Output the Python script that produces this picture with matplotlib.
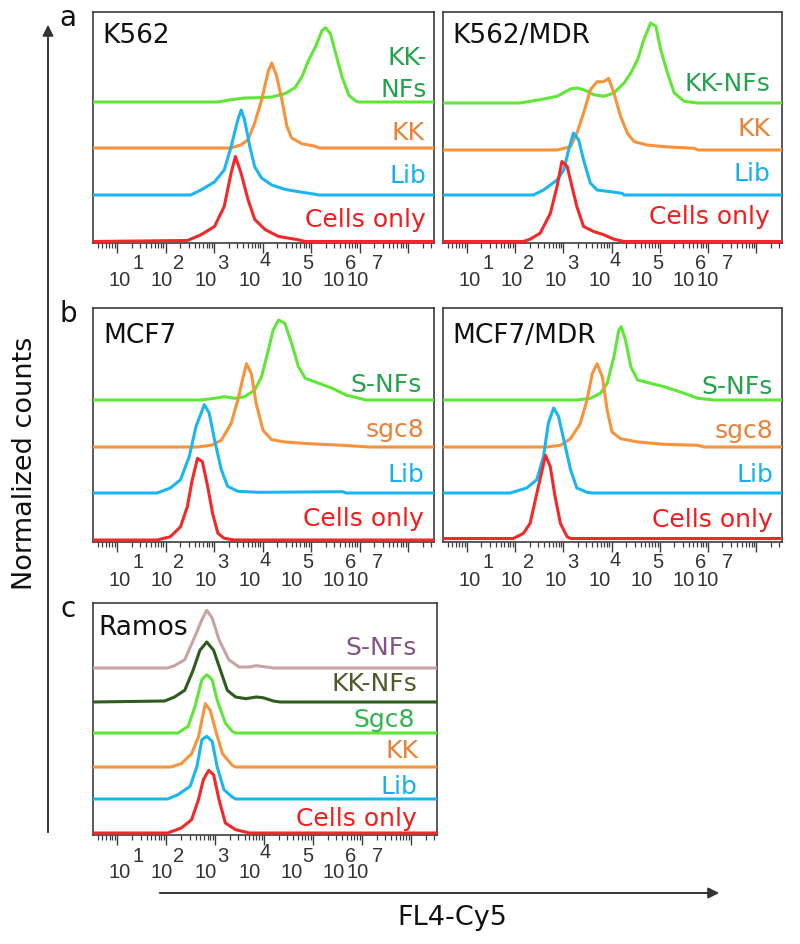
import numpy as np
import matplotlib
matplotlib.use("Agg")
import matplotlib.pyplot as plt
from matplotlib.ticker import LogLocator, NullFormatter
from matplotlib.patches import FancyArrowPatch

# ---------------- data (u = log10 FL4-Cy5 intensity, h = normalized counts) ----------------
# K562
k562_cells_u = [2.45, 2.73, 3.01, 3.21, 3.35, 3.44, 3.56, 3.70, 3.84, 4.05, 4.33, 4.74, 4.88]
k562_cells_h = [1, 6.7, 15, 35, 68, 85, 68, 42, 22, 12, 5, 1.7, 0]
k562_lib_u = [2.52, 2.73, 3.01, 3.21, 3.35, 3.49, 3.56, 3.63, 3.74, 3.84, 3.98, 4.19, 4.46, 4.74, 5.09, 5.16]
k562_lib_h = [0, 5, 13, 25, 48, 75, 85, 75, 48, 28, 17, 10, 5.7, 3.3, 0.7, 0]
k562_kk_u = [3.35, 3.56, 3.70, 3.84, 3.98, 4.12, 4.19, 4.29, 4.40, 4.50, 4.60, 4.81, 5.09, 5.16]
k562_kk_h = [0, 3.3, 8.3, 25, 48, 77, 85, 72, 48, 22, 10, 4.3, 1.7, 0]
k562_kknf_u = [3.08, 3.35, 3.63, 3.91, 4.19, 4.46, 4.67, 4.81, 4.95, 5.09, 5.23, 5.30, 5.40, 5.51, 5.64, 5.78, 5.92, 5.99]
k562_kknf_h = [0, 2.3, 4, 4.3, 5, 8.3, 14.3, 25, 41.7, 55, 71.7, 74.3, 68.3, 48.3, 25, 6.7, 1, 0]

# K562/MDR
k562mdr_cells_u = [2.17, 2.31, 2.52, 2.73, 2.87, 2.97, 3.08, 3.18, 3.28, 3.42, 3.63, 3.84, 4.05, 4.26]
k562mdr_cells_h = [0, 2.3, 8.3, 28, 55, 80, 75, 55, 35, 15, 10, 6.7, 2.3, 0]
k562mdr_lib_u = [2.38, 2.59, 2.87, 3.01, 3.11, 3.21, 3.32, 3.42, 3.56, 3.70, 3.98, 4.22, 4.26]
k562mdr_lib_h = [0, 5, 15, 25, 45, 62, 55, 35, 12, 5, 3.3, 1.7, 0]
k562mdr_kk_u = [2.87, 3.15, 3.28, 3.42, 3.56, 3.70, 3.84, 3.94, 4.05, 4.19, 4.33, 4.47, 4.74, 5.09, 5.72, 5.79]
k562mdr_kk_h = [0, 3.3, 16.7, 36.7, 60, 68.3, 68.3, 71.7, 56.7, 33.3, 16.7, 8.3, 5, 3.3, 1.7, 0]
k562mdr_kknf_u = [2.10, 2.52, 2.87, 3.15, 3.28, 3.42, 3.63, 3.84, 4.05, 4.26, 4.40, 4.54, 4.67, 4.81, 4.92, 5.02, 5.16, 5.30, 5.51, 5.79]
k562mdr_kknf_h = [0, 3.3, 6.7, 14, 15, 13.3, 8.3, 6.7, 10, 20, 30, 43.3, 63.3, 80, 76.7, 53.3, 30, 10, 1.7, 0]

# MCF7
mcf7_cells_u = [1.83, 2.10, 2.31, 2.45, 2.55, 2.66, 2.76, 2.87, 2.97, 3.08, 3.21, 3.42]
mcf7_cells_h = [0, 3.3, 13.3, 33.3, 60, 81.7, 78.3, 53.3, 26.7, 6.7, 1.7, 0]
mcf7_lib_u = [1.83, 2.10, 2.31, 2.49, 2.63, 2.80, 2.90, 3.01, 3.15, 3.28, 3.49, 3.91, 5.65, 5.72]
mcf7_lib_h = [0, 5, 13.3, 36.7, 66.7, 88.3, 80, 53.3, 23.3, 6.7, 1.7, 0.7, 1.3, 0]
mcf7_sgc8_u = [2.66, 2.94, 3.15, 3.35, 3.49, 3.60, 3.67, 3.77, 3.87, 4.01, 4.19, 4.46, 4.95, 5.65, 6.20]
mcf7_sgc8_h = [0, 1.7, 6.7, 23.3, 46.7, 70, 83.3, 73.3, 43.3, 16.7, 7.3, 5, 3.3, 1.7, 0]
mcf7_snf_u = [2.73, 3.01, 3.21, 3.42, 3.63, 3.84, 3.98, 4.12, 4.22, 4.33, 4.46, 4.60, 4.74, 4.88, 5.16, 5.44, 5.72, 5.99, 6.13]
mcf7_snf_h = [0, 1.7, 3.3, 1.7, 3.3, 10, 23.3, 50, 70, 80, 76.7, 56.7, 33.3, 21.7, 16.7, 11.7, 5, 1.7, 0]

# MCF7/MDR
mcf7mdr_cells_u = [1.96, 2.17, 2.31, 2.45, 2.56, 2.63, 2.73, 2.83, 2.94, 3.08, 3.15]
mcf7mdr_cells_h = [0, 5, 15, 45, 68.3, 83.3, 71.7, 41.7, 15, 1.7, 0]
mcf7mdr_lib_u = [1.90, 2.24, 2.45, 2.59, 2.69, 2.80, 2.90, 3.01, 3.15, 3.28, 3.49, 3.60]
mcf7mdr_lib_h = [0, 5, 13.3, 36.7, 70, 85, 76.7, 53.3, 23.3, 5, 0.7, 0]
mcf7mdr_sgc8_u = [2.66, 2.94, 3.15, 3.35, 3.49, 3.60, 3.70, 3.81, 3.91, 4.01, 4.19, 4.54, 5.09, 5.79, 5.92]
mcf7mdr_sgc8_h = [0, 1.7, 8.3, 23.3, 46.7, 73.3, 83.3, 70, 36.7, 15, 8.3, 5, 2.7, 1.7, 0]
mcf7mdr_snf_u = [3.28, 3.56, 3.77, 3.91, 4.05, 4.15, 4.20, 4.29, 4.40, 4.54, 4.81, 5.09, 5.51, 5.79, 6.13]
mcf7mdr_snf_h = [0, 1.7, 6.7, 16.7, 43.3, 70, 73.3, 60, 33.3, 20, 16.7, 13.3, 6.7, 1.7, 0]

# Ramos
ramos_cells_u = [2.03, 2.31, 2.52, 2.66, 2.76, 2.87, 2.97, 3.08, 3.21, 3.42, 3.70]
ramos_cells_h = [0, 5, 13.3, 33.3, 53.3, 62.7, 58.3, 33.3, 10, 3.3, 0]
ramos_lib_u = [2.03, 2.24, 2.49, 2.63, 2.73, 2.83, 2.94, 3.04, 3.18, 3.35, 3.42]
ramos_lib_h = [0, 4.3, 12.7, 32.7, 59.3, 62.7, 57.7, 32.7, 9.3, 2, 0]
ramos_kk_u = [2.10, 2.31, 2.52, 2.66, 2.80, 2.90, 3.01, 3.15, 3.35, 3.42]
ramos_kk_h = [0, 3.3, 13.3, 30, 63.3, 56.7, 36.7, 13.3, 1.7, 0]
ramos_sgc8_u = [2.24, 2.45, 2.59, 2.73, 2.83, 2.94, 3.04, 3.21, 3.35, 3.42]
ramos_sgc8_h = [0, 6.7, 26.7, 53.3, 58.3, 53.3, 33.3, 10, 1.7, 0]
ramos_kknf_u = [1.97, 2.17, 2.38, 2.55, 2.69, 2.83, 2.97, 3.11, 3.25, 3.42, 3.63, 3.84, 3.98, 4.19, 4.33]
ramos_kknf_h = [1, 5, 11.7, 31.7, 51.7, 60, 51.7, 31.7, 11.7, 5, 3.3, 5, 4.3, 1, 0]
ramos_snf_u = [2.03, 2.17, 2.38, 2.59, 2.73, 2.83, 2.94, 3.08, 3.28, 3.49, 3.70, 3.84, 4.05, 4.19]
ramos_snf_h = [0, 2.3, 8.3, 31.7, 48.3, 57.7, 50, 28.3, 8.3, 1, 1, 2.3, 1, 0]

# text
panel_letters = ["a", "b", "c"]
panel_names = ["K562", "K562/MDR", "MCF7", "MCF7/MDR", "Ramos"]
tick_base = "10"
tick_exps = ["1", "2", "3", "4", "5", "6", "7"]
xlabel = "FL4-Cy5"
ylabel = "Normalized counts"

# ---------------- styles ----------------
RED, RED_T = "#f42828", "#f31c1c"
BLUE, BLUE_T = "#1ab6f2", "#17b0ef"
ORANGE, ORANGE_T = "#f7933a", "#ea8136"
LIME, GREEN_T = "#5fe637", "#23a34c"
SGC8_T = "#2fb54c"
PINK, PURPLE_T = "#c9a3a3", "#7e5583"
DKGREEN, OLIVE_T = "#2e5c1e", "#4f5a2b"
FRAME = "#3c3c3c"
LW = 2.2
tick_family = ["Liberation Sans", "DejaVu Sans"]

W, H = 800, 944
fig = plt.figure(figsize=(W / 100, H / 100), dpi=100)


def make_ax(l, t, r, b):
    ax = fig.add_axes([l / W, 1 - b / H, (r - l) / W, (b - t) / H])
    ax.set_xscale("log")
    ax.set_xlim(10 ** 0.505, 10 ** 7.535)
    ax.set_ylim(0, b - t)
    ax.xaxis.set_major_locator(LogLocator(base=10, numticks=20))
    ax.xaxis.set_minor_locator(LogLocator(base=10, subs=np.arange(2, 10), numticks=20))
    ax.xaxis.set_major_formatter(NullFormatter())
    ax.xaxis.set_minor_formatter(NullFormatter())
    ax.set_yticks([])
    ax.tick_params(axis="x", which="major", length=7.5, width=1.0, color=FRAME, direction="out")
    ax.tick_params(axis="x", which="minor", length=3.8, width=0.9, color=FRAME, direction="out")
    for s in ax.spines.values():
        s.set_color(FRAME)
        s.set_linewidth(1.2)
    # tick labels drawn as "10" + raised exponent (as in the instrument export)
    base_dx = [15, 57, 102, 145, 187, 230, 253]
    exp_dx = [40, 80, 124, 167, 209, 252, 279]
    exp_dy = [21, 21, 21, 18, 21, 21, 21]
    for k, e in enumerate(tick_exps):
        ax.annotate(tick_base, xy=(0, 0), xycoords="axes fraction", xytext=(base_dx[k], -38),
                    textcoords="offset pixels", ha="left", va="center", fontsize=14.5,
                    family=tick_family, color="#333333", annotation_clip=False)
        ax.annotate(e, xy=(0, 0), xycoords="axes fraction", xytext=(exp_dx[k], -exp_dy[k]),
                    textcoords="offset pixels", ha="left", va="center", fontsize=14.5,
                    family=tick_family, color="#333333", annotation_clip=False)
    return ax


def draw(ax, u, h, off, color):
    lo, hi = np.log10(ax.get_xlim())
    uu = np.concatenate([[lo], u, [hi]])
    hh = np.concatenate([[0], h, [0]])
    ax.plot(10 ** uu, off + hh, color=color, lw=LW, zorder=3,
            solid_joinstyle="round", solid_capstyle="butt")


def label(ax, text, dx_right, dy_bottom, color):
    ax.annotate(text, xy=(1, 0), xycoords="axes fraction", xytext=(-dx_right, dy_bottom),
                textcoords="offset pixels", ha="right", va="baseline", fontsize=18,
                color=color, zorder=5)


def name(ax, text, dx_left, dy_top):
    ax.annotate(text, xy=(0, 1), xycoords="axes fraction", xytext=(dx_left, -dy_top),
                textcoords="offset pixels", ha="left", va="baseline", fontsize=19,
                color="#111111", zorder=5)


# ---------------- panel a ----------------
ax = make_ax(93, 12, 434, 243)
draw(ax, k562_kknf_u, k562_kknf_h, 141, LIME)
draw(ax, k562_kk_u, k562_kk_h, 95, ORANGE)
draw(ax, k562_lib_u, k562_lib_h, 48, BLUE)
draw(ax, k562_cells_u, k562_cells_h, 1.5, RED)
name(ax, panel_names[0], 9, 31)
label(ax, "KK-", 7, 178, GREEN_T)
label(ax, "NFs", 7, 146, GREEN_T)
label(ax, "KK", 9, 103, ORANGE_T)
label(ax, "Lib", 8, 60, BLUE_T)
label(ax, "Cells only", 8, 16, RED_T)

ax = make_ax(443, 12, 782, 243)
draw(ax, k562mdr_kknf_u, k562mdr_kknf_h, 140, LIME)
draw(ax, k562mdr_kk_u, k562mdr_kk_h, 93, ORANGE)
draw(ax, k562mdr_lib_u, k562mdr_lib_h, 48, BLUE)
draw(ax, k562mdr_cells_u, k562mdr_cells_h, 1.5, RED)
name(ax, panel_names[1], 9, 31)
label(ax, "KK-NFs", 12, 152, GREEN_T)
label(ax, "KK", 12, 107, ORANGE_T)
label(ax, "Lib", 12, 62, BLUE_T)
label(ax, "Cells only", 12, 19, RED_T)

# ---------------- panel b ----------------
ax = make_ax(93, 308, 434, 542)
draw(ax, mcf7_snf_u, mcf7_snf_h, 142, LIME)
draw(ax, mcf7_sgc8_u, mcf7_sgc8_h, 95, ORANGE)
draw(ax, mcf7_lib_u, mcf7_lib_h, 49, BLUE)
draw(ax, mcf7_cells_u, mcf7_cells_h, 2, RED)
name(ax, panel_names[2], 10, 35)
label(ax, "S-NFs", 12, 150, GREEN_T)
label(ax, "sgc8", 10, 105, ORANGE_T)
label(ax, "Lib", 10, 60, BLUE_T)
label(ax, "Cells only", 10, 16, RED_T)

ax = make_ax(443, 308, 782, 542)
draw(ax, mcf7mdr_snf_u, mcf7mdr_snf_h, 142, LIME)
draw(ax, mcf7mdr_sgc8_u, mcf7mdr_sgc8_h, 95, ORANGE)
draw(ax, mcf7mdr_lib_u, mcf7mdr_lib_h, 49, BLUE)
draw(ax, mcf7mdr_cells_u, mcf7mdr_cells_h, 3.5, RED)
name(ax, panel_names[3], 9, 35)
label(ax, "S-NFs", 9, 148, GREEN_T)
label(ax, "sgc8", 9, 104, ORANGE_T)
label(ax, "Lib", 9, 60, BLUE_T)
label(ax, "Cells only", 9, 15, RED_T)

# ---------------- panel c ----------------
ax = make_ax(93, 603, 437, 835)
draw(ax, ramos_snf_u, ramos_snf_h, 167, PINK)
draw(ax, ramos_kknf_u, ramos_kknf_h, 133, DKGREEN)
draw(ax, ramos_sgc8_u, ramos_sgc8_h, 102, LIME)
draw(ax, ramos_kk_u, ramos_kk_h, 68, ORANGE)
draw(ax, ramos_lib_u, ramos_lib_h, 36, BLUE)
draw(ax, ramos_cells_u, ramos_cells_h, 2, RED)
name(ax, panel_names[4], 5, 32)
label(ax, "S-NFs", 20, 180, PURPLE_T)
label(ax, "KK-NFs", 20, 144, OLIVE_T)
label(ax, "Sgc8", 22, 108, SGC8_T)
label(ax, "KK", 19, 77, ORANGE_T)
label(ax, "Lib", 20, 41, BLUE_T)
label(ax, "Cells only", 20, 9, RED_T)

# ---------------- letters, axis titles, arrows ----------------
for letter, ytop in zip(panel_letters, [12, 308, 603]):
    fig.text(68 / W, 1 - (ytop + 14) / H, letter, ha="center", va="baseline",
             fontsize=20, color="#111111")

fig.text(25 / W, 1 - 463 / H, ylabel, rotation=90, ha="center", va="center",
         fontsize=19.5, color="#111111")
fig.text(452 / W, 1 - 918 / H, xlabel, ha="center", va="center",
         fontsize=19.5, color="#111111")

arr_v = FancyArrowPatch((48 / W, 1 - 835 / H), (48 / W, 1 - 22 / H), transform=fig.transFigure,
                        arrowstyle="-|>", mutation_scale=16, lw=1.4, color="#333333")
arr_h = FancyArrowPatch((157 / W, 1 - 893 / H), (722 / W, 1 - 893 / H), transform=fig.transFigure,
                        arrowstyle="-|>", mutation_scale=16, lw=1.4, color="#333333")
fig.add_artist(arr_v)
fig.add_artist(arr_h)

fig.savefig("out.png", dpi=100)
